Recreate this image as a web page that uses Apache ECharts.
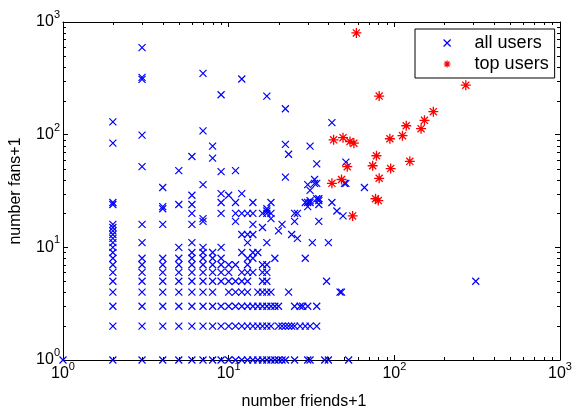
<!DOCTYPE html>
<html><head><meta charset="utf-8">
<script src="https://cdn.jsdelivr.net/npm/echarts@6/dist/echarts.min.js"></script>
<style>html,body{margin:0;padding:0;background:#fff}#c{width:575px;height:410px}</style>
</head><body><div id="c"></div>
<script>
// ---- data ----
const seriesNames = ['all users', 'top users'];
const xTitle = 'number friends+1';
const yTitle = 'number fans+1';
const decadeTicks = [1, 10, 100, 1000];
const tickExponents = ['0', '1', '2', '3'];
const minorTickValues = [2,3,4,5,6,7,8,9,20,30,40,50,60,70,80,90,200,300,400,500,600,700,800,900];

// all users: fans+1 levels and the friends+1 values seen at each level
const fansLevels = [1,2,3,4,5,6,7,8,9,10,11,12,13,14,15,16,17,18,19,20,21,22,23,24,25,26,27,29,30,32,34,36,37,40,42,47,48,52,55,57,62,64,67,79,82,84,99,108,128,130,170,220,226,310,312,322,350,592];
const friendsAtLevel = [
  [1,2,3,4,5,6,7,8,9,10,11,12,13,14,15,16,17,18,19,20,21,22,25,30,31,38,40,53],
  [2,3,4,5,6,7,8,9,10,11,12,13,14,15,16,17,18,20,21,22,23,24,25,27,29,31,34],
  [2,3,4,5,6,7,8,9,10,11,12,13,14,15,16,17,18,19,20,25,27,28,30,34],
  [2,3,4,5,6,7,8,10,11,12,13,15,16,17,18,23,47,48],
  [2,3,4,5,6,7,8,9,10,11,12,13,16,17,39,310],
  [2,3,4,5,6,7,8,9,10,12,13,14,16,17],
  [2,3,4,5,6,7,8,9,10,11,13,16,17],
  [2,3,4,5,6,7,8,9,13,14,19,29],
  [2,6,7,8,12,14,15],
  [2,5,7,9],
  [2,3,6,13,17,32,40],
  [2,26],
  [2,12,13,14,24],
  [2,20],
  [2,16],
  [2,3,4,6,14,21],
  [7,11,25,35],
  [7,18],
  [49],
  [6,9,11,12,13,14,16,17,18,25,26],
  [17,45],
  [4,17],
  [4,30],
  [2,5,6,35],
  [2,9,11,14,18,29,30,31,42],
  [31,35],
  [34,35],
  [6,10],
  [9,12],
  [31],
  [4,66],
  [7,30],
  [33,34,50,51],
  [33],
  [22],
  [9],
  [5,11],
  [3],
  [34],
  [51],
  [8],
  [6],
  [23],
  [8,31],
  [22],
  [2],
  [3],
  [7],
  [42],
  [2],
  [22],
  [17],
  [9],
  [3],
  [12],
  [3],
  [7],
  [3]
];

// top users
const topFriends = [59,81,270,172,152,145,118,112,94,124,78,74,95,81,52,43,49,54,57,42,48,77,80,56];
const topFans    = [800,220,275,160,134,113,120,98,92,58,65,53,50,41,52,90,94,87,84,37,40,27,26,19];

// ---- build series data ----
const allData = [];
fansLevels.forEach((f, i) => friendsAtLevel[i].forEach(x => allData.push([x, f])));
const topData = topFriends.map((x, i) => [x, topFans[i]]);

const FONT = '"Liberation Sans", Arial, Helvetica, sans-serif';
const X_PATH = 'path://M0,0L10,10M10,0L0,10';
const STAR_PATH = 'path://M5,0L5,10M0,5L10,5M1.46,1.46L8.54,8.54M8.54,1.46L1.46,8.54';
const BLUE = '#0000ff', RED = '#ff0000';

function expLabel(v) {
  const e = Math.round(Math.log10(v));
  const i = decadeTicks.indexOf(Math.pow(10, e));
  return '{b|10}{s|' + tickExponents[i] + '}';
}
const rich = {
  b: {fontSize: 16, fontFamily: FONT, color: '#000'},
  s: {fontSize: 11, fontFamily: FONT, color: '#000', padding: [0, 0, 14, 0]}
};
const lineStyle = {color: '#000', width: 1};

function logAxis(pos, showLabel, extra) {
  return Object.assign({
    type: 'log', logBase: 10, min: 1, max: 1000, position: pos,
    axisLine: {show: true, onZero: false, lineStyle},
    axisTick: {show: true, inside: true, length: 5, lineStyle},
    splitLine: {show: false},
    minorTick: {show: false},
    axisLabel: {show: showLabel, formatter: expLabel, rich: rich},
  }, extra || {});
}

const chart = echarts.init(document.getElementById('c'), null, {renderer: 'canvas'});
chart.setOption({
  animation: false,
  backgroundColor: '#fff',
  grid: {left: 63, right: 15, top: 22, bottom: 50, containLabel: false, outerBoundsMode: 'none'},
  xAxis: [
    logAxis('bottom', true, {
      name: xTitle, nameLocation: 'middle', nameGap: 34,
      nameTextStyle: {fontSize: 16, fontFamily: FONT, color: '#000', padding: [0, 15, 0, 0]},
      axisLabel: {show: true, formatter: expLabel, rich: rich, margin: 1}
    }),
    logAxis('top', false)
  ],
  yAxis: [
    logAxis('left', true, {
      name: yTitle, nameLocation: 'middle', nameGap: 39, nameRotate: 90,
      nameTextStyle: {fontSize: 16, fontFamily: FONT, color: '#000'},
      axisLabel: {show: true, formatter: expLabel, rich: rich, margin: 3}
    }),
    logAxis('right', false)
  ],
  legend: {
    left: 415, top: 29, orient: 'vertical',
    padding: [5, 6, 5, 28], itemGap: 3, itemWidth: 7, itemHeight: 18,
    borderColor: '#000', borderWidth: 1, backgroundColor: '#fff',
    selectedMode: false,
    textStyle: {fontSize: 18, fontFamily: FONT, color: '#000', padding: [0, 0, 0, 19], lineHeight: 18},
    data: [
      {name: seriesNames[0], icon: X_PATH, itemStyle: {color: BLUE, borderColor: BLUE, borderWidth: 1.2}},
      {name: seriesNames[1], icon: STAR_PATH, itemStyle: {color: RED, borderColor: RED, borderWidth: 1.2}}
    ]
  },
  series: [
    {
      type: 'scatter', name: seriesNames[0], data: allData,
      symbol: X_PATH, symbolSize: 7, z: 3,
      itemStyle: {color: BLUE, borderColor: BLUE, borderWidth: 1.2, opacity: 1},
      emphasis: {disabled: true}
    },
    {
      type: 'scatter', name: seriesNames[1], data: topData,
      symbol: STAR_PATH, symbolSize: 10, z: 4,
      itemStyle: {color: RED, borderColor: RED, borderWidth: 1.3, opacity: 1},
      emphasis: {disabled: true}
    }
  ]
});

// minor ticks on all four sides, placed through the axes' own scales
const xb = chart.convertToPixel({xAxisIndex: 0}, 1), xt = chart.convertToPixel({xAxisIndex: 0}, 1000);
const yb = chart.convertToPixel({yAxisIndex: 0}, 1), yt = chart.convertToPixel({yAxisIndex: 0}, 1000);
const ticks = [];
const st = {stroke: '#000', lineWidth: 1};
minorTickValues.forEach(v => {
  const px = Math.round(chart.convertToPixel({xAxisIndex: 0}, v)) + 0.5;
  const py = Math.round(chart.convertToPixel({yAxisIndex: 0}, v)) + 0.5;
  ticks.push({type: 'line', silent: true, z: 5, shape: {x1: px, y1: yb, x2: px, y2: yb - 3}, style: st});
  ticks.push({type: 'line', silent: true, z: 5, shape: {x1: px, y1: yt, x2: px, y2: yt + 3}, style: st});
  ticks.push({type: 'line', silent: true, z: 5, shape: {x1: xb, y1: py, x2: xb + 3, y2: py}, style: st});
  ticks.push({type: 'line', silent: true, z: 5, shape: {x1: xt, y1: py, x2: xt - 3, y2: py}, style: st});
});
chart.setOption({graphic: ticks});
</script></body></html>
